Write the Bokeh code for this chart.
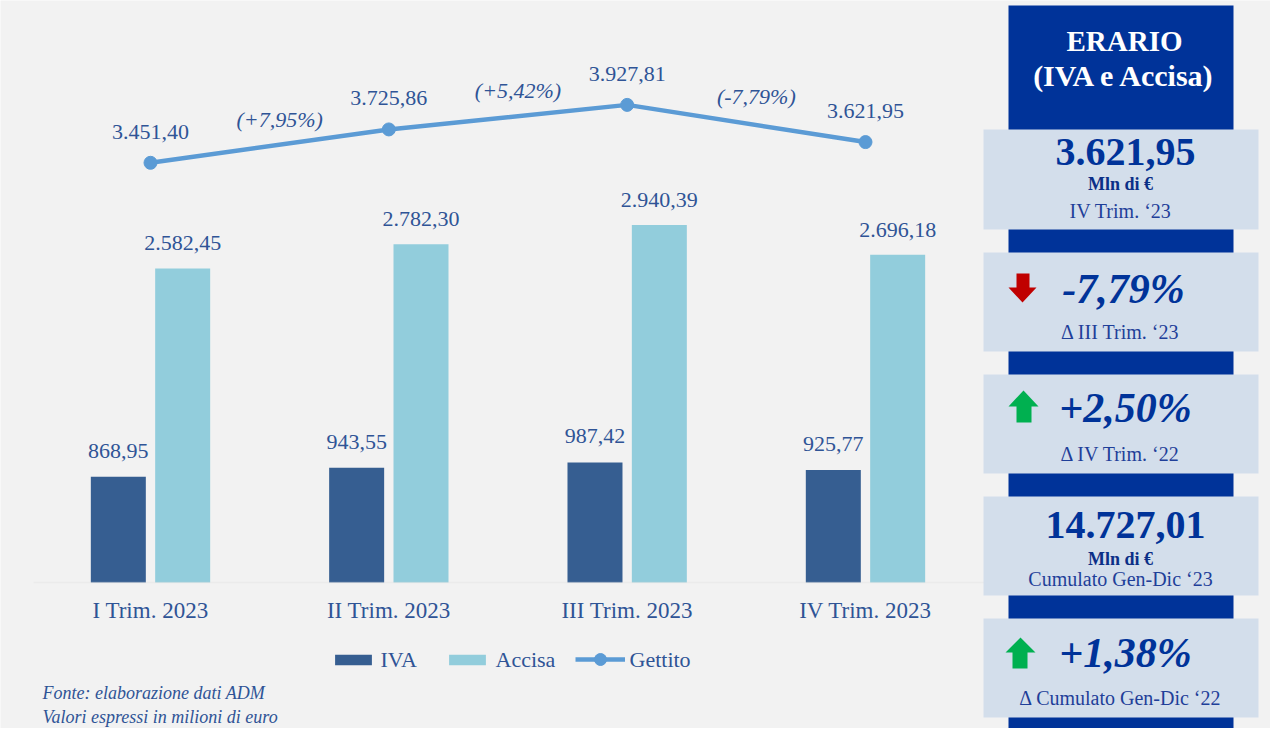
from bokeh.plotting import figure
from bokeh.models import (ColumnDataSource, Legend, LegendItem, Label,
                          BoxAnnotation, PolyAnnotation, Range1d)
from bokeh.core.properties import value
from bokeh.transform import dodge
from bokeh.embed import file_html
from bokeh.resources import INLINE

# ---------------- data ----------------
categories = ["I Trim. 2023", "II Trim. 2023", "III Trim. 2023", "IV Trim. 2023"]
iva = [868.95, 943.55, 987.42, 925.77]
accisa = [2582.45, 2782.30, 2940.39, 2696.18]
gettito = [3451.40, 3725.86, 3927.81, 3621.95]
variazioni = ["(+7,95%)", "(+5,42%)", "(-7,79%)"]
series_names = ["IVA", "Accisa", "Gettito"]

panel_title = ["ERARIO", "(IVA e Accisa)"]
kpi_trim_value = "3.621,95"
kpi_trim_sub = "IV Trim. \u201823"
kpi_var_prev = "-7,79%"
kpi_var_prev_sub = "\u0394 III Trim. \u201823"
kpi_var_yoy = "+2,50%"
kpi_var_yoy_sub = "\u0394 IV Trim. \u201822"
kpi_cum_value = "14.727,01"
kpi_cum_sub = "Cumulato Gen-Dic \u201823"
kpi_cum_var = "+1,38%"
kpi_cum_var_sub = "\u0394 Cumulato Gen-Dic \u201822"
unit_label = "Mln di \u20ac"
note_lines = ["Fonte: elaborazione dati ADM", "Valori espressi in milioni di euro"]


def it(v):
    s = f"{v:,.2f}"
    return s.replace(",", "X").replace(".", ",").replace("X", ".")


# ---------------- style ----------------
W, H = 1270, 728
BG = "#f2f2f2"
C_IVA = "#365e91"
C_ACC = "#92cddc"
C_LINE = "#5b9bd5"
C_TXT = "#2f5496"
C_DARK = "#003399"
C_BOX = "#d3deeb"
C_SUB = "#1f3f99"
FONT = "Liberation Serif"

idx = list(range(len(categories)))
src = ColumnDataSource(dict(
    idx=idx, cat=categories, iva=iva, accisa=accisa, gettito=gettito,
    iva_lbl=[it(v) for v in iva], acc_lbl=[it(v) for v in accisa],
    get_lbl=[it(v) for v in gettito],
))
vsrc = ColumnDataSource(dict(
    x=[i + 0.5 for i in range(len(variazioni))],
    y=[(gettito[i] + gettito[i + 1]) / 2 for i in range(len(variazioni))],
    t=variazioni,
))

step = 238.33
x0 = -150 / step
ppu = 0.1216
y0 = -146 / ppu
p = figure(width=W, height=H, output_backend="svg", toolbar_location=None,
           x_range=Range1d(x0, x0 + W / step), y_range=Range1d(y0, y0 + H / ppu),
           min_border=0, background_fill_color=BG, border_fill_color=BG,
           outline_line_color=None)
p.axis.visible = False
p.grid.visible = False


def sx(X):
    return X


def sy(Y):
    return H - Y


# baseline (axis line)
p.add_layout(BoxAnnotation(left=sx(33), right=sx(985), top=0, bottom=0,
                           left_units="screen", right_units="screen",
                           fill_alpha=0, line_color="#d9d9d9", line_width=1.5))

bw = 55 / step
r_iva = p.vbar(x=dodge("idx", -0.135, range=p.x_range), top="iva", width=bw,
               source=src, color=C_IVA, line_color=None)
r_acc = p.vbar(x=dodge("idx", 0.135, range=p.x_range), top="accisa", width=bw,
               source=src, color=C_ACC, line_color=None)
r_line = p.line(x="idx", y="gettito", source=src, line_color=C_LINE, line_width=4.5)
r_dot = p.scatter(x="idx", y="gettito", source=src, size=13, fill_color=C_LINE,
                  line_color=C_LINE)

common = dict(text_font=value(FONT), text_color=C_TXT, text_align="center",
              text_baseline="middle")
p.text(x=dodge("idx", -0.135, range=p.x_range), y="iva", text="iva_lbl", source=src,
       y_offset=-26, text_font_size="22px", **common)
p.text(x=dodge("idx", 0.135, range=p.x_range), y="accisa", text="acc_lbl", source=src,
       y_offset=-25, text_font_size="22px", **common)
p.text(x="idx", y="gettito", text="get_lbl", source=src, y_offset=-31,
       text_font_size="22px", **common)
p.text(x="x", y="y", text="t", source=vsrc, y_offset=-27, x_offset=10,
       text_font_size="22px", text_font_style="italic", **common)
p.text(x="idx", y=0, text="cat", source=src, y_offset=28,
       text_font_size="23px", **common)

# legend: glyphs from Bokeh legends, label texts as serif Labels
leg_common = dict(orientation="horizontal", background_fill_alpha=0,
                  border_line_color=None, padding=0, margin=0, spacing=0,
                  label_standoff=0, label_width=0, label_text_font_size="1px",
                  label_text_alpha=0)
legend_specs = [
    ([r_iva], 330, 62, 46, 13, 380),
    ([r_acc], 444, 62, 46, 13, 495),
    ([r_line, r_dot], 575, 54, 50, 30, 629),
]
for name, (rends, lx, ly, gw, gh, tx) in zip(series_names, legend_specs):
    p.add_layout(Legend(items=[LegendItem(label=" ", renderers=rends)],
                        location=(lx, ly), glyph_width=gw, glyph_height=gh,
                        label_height=gh, **leg_common))
    p.add_layout(Label(x=sx(tx), y=sy(659), x_units="screen", y_units="screen",
                       text=name, text_font=FONT, text_font_size="22px",
                       text_color=C_TXT, text_baseline="middle", text_align="left"))

for k, line in enumerate(note_lines):
    p.add_layout(Label(x=sx(42), y=sy(692 + 24 * k), x_units="screen", y_units="screen",
                       text=line, text_font=FONT, text_font_size="18px",
                       text_font_style="italic", text_color=C_TXT,
                       text_baseline="middle", text_align="left"))

# ---------------- right panel ----------------
p.add_layout(BoxAnnotation(left=sx(1008), right=sx(1233), bottom=0, top=sy(5),
                           left_units="screen", right_units="screen",
                           top_units="screen", bottom_units="screen",
                           fill_color=C_DARK, fill_alpha=1, line_color=None))
for (t, b) in [(129, 229), (252, 351), (374, 473), (496, 595), (618, 717)]:
    p.add_layout(BoxAnnotation(left=sx(983), right=sx(1258), top=sy(t), bottom=sy(b),
                               left_units="screen", right_units="screen",
                               top_units="screen", bottom_units="screen",
                               fill_color=C_BOX, fill_alpha=1, line_color=None))


def lab(X, Y, text, size, color, style="normal", align="center"):
    p.add_layout(Label(x=sx(X), y=sy(Y), x_units="screen", y_units="screen",
                       text=text, text_font=FONT, text_font_size=size,
                       text_font_style=style, text_color=color,
                       text_align=align, text_baseline="middle"))


lab(1124, 40, panel_title[0], "29px", "white", "bold")
lab(1124, 75, panel_title[1], "30px", "white", "bold")

lab(1125, 151, kpi_trim_value, "40px", C_DARK, "bold")
lab(1120, 183, unit_label, "18px", "#0b2f87", "bold")
lab(1120, 210, kpi_trim_sub, "20px", C_SUB)

lab(1123, 288, kpi_var_prev, "42px", C_DARK, "bold italic")
lab(1120, 331, kpi_var_prev_sub, "20px", C_SUB)

lab(1125, 407, kpi_var_yoy, "42px", C_DARK, "bold italic")
lab(1120, 453, kpi_var_yoy_sub, "20px", C_SUB)

lab(1125, 524, kpi_cum_value, "40px", C_DARK, "bold")
lab(1120, 558, unit_label, "18px", "#0b2f87", "bold")
lab(1120, 578, kpi_cum_sub, "20px", C_SUB)

lab(1125, 652, kpi_cum_var, "42px", C_DARK, "bold italic")
lab(1120, 697, kpi_cum_var_sub, "20px", C_SUB)


def poly(pts, color):
    p.add_layout(PolyAnnotation(xs=[sx(a) for a, _ in pts], ys=[sy(b) for _, b in pts],
                                xs_units="screen", ys_units="screen",
                                fill_color=color, fill_alpha=1, line_color=None))


poly([(1016, 273), (1029, 273), (1029, 287), (1036, 287), (1022, 302), (1008, 287),
      (1016, 287)], "#c00000")
poly([(1023, 390), (1038, 406), (1031, 406), (1031, 422), (1016, 422), (1016, 406),
      (1008, 406)], "#00b050")
poly([(1020, 637), (1035, 652), (1027, 652), (1027, 668), (1012, 668), (1012, 652),
      (1005, 652)], "#00b050")

open("out.html", "w").write(file_html(p, INLINE))
